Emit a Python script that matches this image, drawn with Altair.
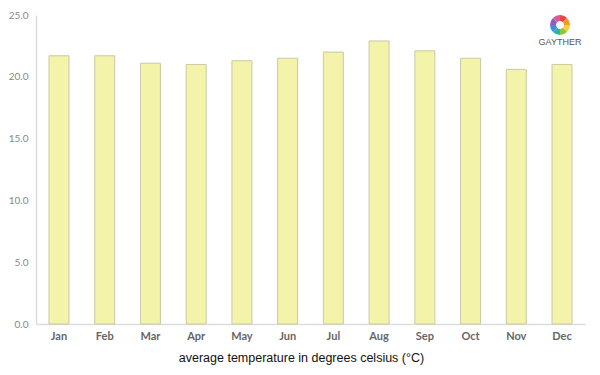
import altair as alt
import pandas as pd

months = ["Jan", "Feb", "Mar", "Apr", "May", "Jun", "Jul", "Aug", "Sep", "Oct", "Nov", "Dec"]
temps = [21.7, 21.7, 21.1, 21.0, 21.3, 21.5, 22.0, 22.9, 22.1, 21.5, 20.6, 21.0]

logo_colors = ["#e8483f", "#f39a2b", "#f2d43a", "#8cc63f", "#2fb3a6", "#3f8fd6", "#8e5bc9", "#e0569a"]

df = pd.DataFrame({"month": months, "temp": temps})
logo_df = pd.DataFrame({"seg": list(range(len(logo_colors))), "color": logo_colors, "v": [1] * len(logo_colors)})

bars = alt.Chart(df).mark_bar(
    fill="#f3f3aa", stroke="#c9c9a4", strokeWidth=1
).encode(
    x=alt.X("month:N", sort=months,
            scale=alt.Scale(paddingInner=0.563, paddingOuter=0.284),
            axis=alt.Axis(title="average temperature in degrees celsius (°C)",
                          labelAngle=0, labelFont="Lato", labelFontWeight="bold",
                          labelColor="#666666", labelFontSize=11, labelPadding=6,
                          ticks=False, domainColor="#dddddd", domainWidth=1.5,
                          titleFont="Liberation Sans", titleFontWeight="normal",
                          titleFontSize=12.5, titleColor="#111111", titlePadding=10,
                          titleX=265)),
    y=alt.Y("temp:Q", scale=alt.Scale(domain=[0, 25]),
            axis=alt.Axis(title=None, values=[0, 5, 10, 15, 20, 25], format=".1f",
                          labelFont="Lato", labelColor="#888888", labelFontSize=10,
                          ticks=False, grid=False, domainColor="#dddddd", domainWidth=1.5,
                          labelPadding=8)),
)

ring = alt.Chart(logo_df).mark_arc(innerRadius=4, outerRadius=10).encode(
    theta=alt.Theta("v:Q", stack=True),
    order=alt.Order("seg:O"),
    color=alt.Color("color:N", scale=None),
    x=alt.value(524),
    y=alt.value(10),
)

logo_text = alt.Chart(pd.DataFrame({"t": ["GAYTHER"]})).mark_text(
    font="Liberation Sans", fontSize=9, color="#555555"
).encode(text="t:N", x=alt.value(524), y=alt.value(27))

chart = alt.layer(bars, ring, logo_text).properties(
    width=584, height=359,
    autosize=alt.AutoSizeParams(type="fit", contains="padding"),
    padding={"left": 0, "top": 2, "right": 7, "bottom": 3},
).configure_view(stroke=None).configure_axis(labelOverlap=False)

chart.save("out.html", embed_options={"renderer": "svg", "actions": False})
